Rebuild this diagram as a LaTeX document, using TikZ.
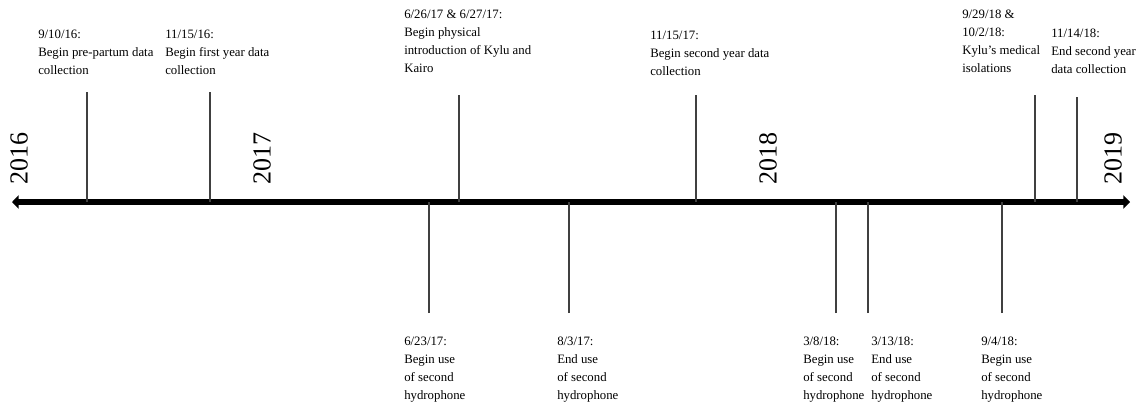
\documentclass[tikz,border=0pt]{standalone}
\usepackage{fontspec}
\setmainfont{Liberation Serif}
\usepackage{tikz}
\usetikzlibrary{arrows.meta}

\begin{document}
\begin{tikzpicture}[x=0.75pt,y=-0.75pt,
  timeline/.style={line width=4.5pt, {Triangle[length=5pt,width=10pt]}-{Triangle[length=5pt,width=10pt]}},
  tick/.style={line width=0.8pt, black!75},
  evlabel/.style={anchor=north west, inner sep=0pt, align=left, font=\fontsize{9.6}{13.6}\selectfont},
  year/.style={rotate=90, inner sep=0pt, font=\fontsize{19.5}{20}\selectfont}]
\useasboundingbox (0,0) rectangle (1144,408);
\coordinate (axisL) at (12,202);
\coordinate (axisR) at (1130,202);
\draw[timeline] (axisL) -- (axisR);
\node[year] (y2016) at (19,158) {2016};
\node[year] (y2017) at (262,158) {2017};
\node[year] (y2018) at (768,158) {2018};
\node[year] (y2019) at (1113,158) {2019};
\coordinate (u1) at (87,92);
\coordinate (u2) at (210,92);
\coordinate (u3) at (459,95);
\coordinate (u4) at (696,95);
\coordinate (u5) at (1035,95);
\coordinate (u6) at (1077,97);
\coordinate (d1) at (429,313);
\coordinate (d2) at (569,313);
\coordinate (d3) at (836,313);
\coordinate (d4) at (868,313);
\coordinate (d5) at (1002,313);
\draw[tick] (u1) -- (u1 |- axisL);
\draw[tick] (u2) -- (u2 |- axisL);
\draw[tick] (u3) -- (u3 |- axisL);
\draw[tick] (u4) -- (u4 |- axisL);
\draw[tick] (u5) -- (u5 |- axisL);
\draw[tick] (u6) -- (u6 |- axisL);
\draw[tick] (d1) -- (d1 |- axisL);
\draw[tick] (d2) -- (d2 |- axisL);
\draw[tick] (d3) -- (d3 |- axisL);
\draw[tick] (d4) -- (d4 |- axisL);
\draw[tick] (d5) -- (d5 |- axisL);
\node[evlabel] (prepartum) at (38,29.5) {9/10/16:\\Begin pre-partum data\\collection};
\node[evlabel] (firstyear) at (165,29.5) {11/15/16:\\Begin first year data\\collection};
\node[evlabel] (intro) at (404,9.5) {6/26/17 \& 6/27/17:\\Begin physical\\introduction of Kylu and\\Kairo};
\node[evlabel] (secondyear) at (650,31) {11/15/17:\\Begin second year data\\collection};
\node[evlabel] (isolation) at (962,9.5) {9/29/18 \&\\10/2/18:\\Kylu’s medical\\isolations};
\node[evlabel] (endyear) at (1051,28.5) {11/14/18:\\End second year\\data collection};
\node[evlabel] (hydroA) at (404,336.5) {6/23/17:\\Begin use\\of second\\hydrophone};
\node[evlabel] (hydroB) at (557,336.5) {8/3/17:\\End use\\of second\\hydrophone};
\node[evlabel] (hydroC) at (803,336.5) {3/8/18:\\Begin use\\of second\\hydrophone};
\node[evlabel] (hydroD) at (871,336.5) {3/13/18:\\End use\\of second\\hydrophone};
\node[evlabel] (hydroE) at (981,336.5) {9/4/18:\\Begin use\\of second\\hydrophone};
\end{tikzpicture}
\end{document}
